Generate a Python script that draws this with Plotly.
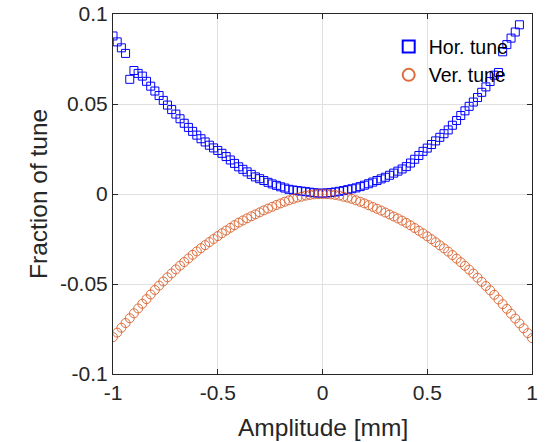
import plotly.graph_objects as go

# Horizontal tune: amplitude [mm] and fraction of tune
hor_x = [round(-1 + 0.02 * i, 2) for i in range(98)]
hor_y = [
    0.0878, 0.0845, 0.0812, 0.0781, 0.0637, 0.0686, 0.0670, 0.0655, 0.0626, 0.0599,
    0.0572, 0.0547, 0.0520, 0.0494, 0.0469, 0.0444, 0.0418, 0.0393, 0.0370, 0.0348,
    0.0327, 0.0307, 0.0289, 0.0271, 0.0256, 0.0242, 0.0226, 0.0208, 0.0189, 0.0170,
    0.0151, 0.0137, 0.0123, 0.0109, 0.0095, 0.0085, 0.0075, 0.0065, 0.0056, 0.0048,
    0.0040, 0.0033, 0.0026, 0.0022, 0.0019, 0.0016, 0.0013, 0.0010, 0.0007, 0.0005,
    0.0004,
    0.0006, 0.0008, 0.0011, 0.0015, 0.0019, 0.0024, 0.0029, 0.0034, 0.0041, 0.0049,
    0.0057, 0.0066, 0.0075, 0.0084, 0.0093, 0.0104, 0.0116, 0.0127, 0.0139, 0.0152,
    0.0172, 0.0193, 0.0214, 0.0237, 0.0255, 0.0275, 0.0295, 0.0315, 0.0335, 0.0356,
    0.0382, 0.0408, 0.0436, 0.0462, 0.0487, 0.0511, 0.0536, 0.0565, 0.0595, 0.0625,
    0.0660, 0.0675, 0.0790, 0.0830, 0.0866, 0.0900, 0.0940,
]

# Vertical tune
ver_x = [round(-1 + 0.02 * i, 2) for i in range(101)]
ver_y = [
    -0.0795, -0.0770, -0.0743, -0.0717, -0.0690, -0.0663, -0.0636, -0.0610, -0.0584, -0.0558,
    -0.0533, -0.0509, -0.0486, -0.0463, -0.0441, -0.0419, -0.0398, -0.0378, -0.0358, -0.0338,
    -0.0319, -0.0301, -0.0284, -0.0267, -0.0250, -0.0234, -0.0218, -0.0203, -0.0188, -0.0173,
    -0.0159, -0.0147, -0.0135, -0.0124, -0.0113, -0.0102, -0.0091, -0.0081, -0.0071, -0.0061,
    -0.0052, -0.0043, -0.0035, -0.0027, -0.0020, -0.0015, -0.0009, -0.0005, -0.0002, -0.0001,
    0.0000,
    -0.0001, -0.0002, -0.0005, -0.0009, -0.0015, -0.0020, -0.0027, -0.0035, -0.0043, -0.0052,
    -0.0062, -0.0072, -0.0082, -0.0092, -0.0103, -0.0114, -0.0125, -0.0136, -0.0148, -0.0160,
    -0.0174, -0.0189, -0.0204, -0.0219, -0.0235, -0.0251, -0.0268, -0.0285, -0.0302, -0.0320,
    -0.0339, -0.0359, -0.0379, -0.0399, -0.0420, -0.0442, -0.0465, -0.0488, -0.0511, -0.0535,
    -0.0560, -0.0586, -0.0612, -0.0638, -0.0665, -0.0692, -0.0719, -0.0746, -0.0773, -0.0800,
]

x_ticks = [-1, -0.5, 0, 0.5, 1]
x_tick_labels = ["-1", "-0.5", "0", "0.5", "1"]
y_ticks = [-0.1, -0.05, 0, 0.05, 0.1]
y_tick_labels = ["-0.1", "-0.05", "0", "0.05", "0.1"]
x_title = "Amplitude [mm]"
y_title = "Fraction of tune"

FONT = "Liberation Sans, Arial, sans-serif"
AXIS_COLOR = "#262626"

fig = go.Figure()
fig.add_trace(go.Scatter(
    x=hor_x, y=hor_y, mode="markers", name="Hor. tune",
    marker=dict(symbol="square-open", size=8, color="#0000FF", line=dict(width=1)),
))
fig.add_trace(go.Scatter(
    x=ver_x, y=ver_y, mode="markers", name="Ver. tune",
    marker=dict(symbol="circle-open", size=9, color="#D95319", line=dict(width=1)),
    opacity=0.85,
))

axis_common = dict(
    showgrid=True, gridcolor="#E0E0E0", gridwidth=1,
    showline=True, linecolor=AXIS_COLOR, linewidth=1, mirror="ticks",
    ticks="inside", ticklen=5, tickcolor=AXIS_COLOR,
    zeroline=False, automargin=False,
    tickfont=dict(family=FONT, size=21, color=AXIS_COLOR),
)

fig.update_layout(
    width=545, height=442,
    margin=dict(l=113, r=13, t=14, b=68),
    paper_bgcolor="white", plot_bgcolor="white",
    font=dict(family=FONT, color=AXIS_COLOR),
    showlegend=True,
    legend=dict(
        x=0.658, y=0.963, xanchor="left", yanchor="top",
        bgcolor="rgba(0,0,0,0)", borderwidth=0,
        font=dict(family=FONT, size=19.5, color="#000000"),
        itemsizing="constant", tracegroupgap=0,
    ),
    xaxis=dict(range=[-1, 1], tickvals=x_ticks, ticktext=x_tick_labels, **axis_common),
    yaxis=dict(range=[-0.1, 0.1], tickvals=y_ticks, ticktext=y_tick_labels, **axis_common),
    annotations=[
        dict(text=x_title, xref="paper", yref="paper", x=0.5, y=-0.15,
             xanchor="center", yanchor="middle", showarrow=False,
             font=dict(family=FONT, size=24.5, color=AXIS_COLOR)),
        dict(text=y_title, xref="paper", yref="paper", x=-0.179, y=0.5,
             xanchor="center", yanchor="middle", showarrow=False, textangle=-90,
             font=dict(family=FONT, size=24.5, color=AXIS_COLOR)),
    ],
)

fig.write_html(
    "out.html",
    config={"displayModeBar": False},
    post_script="document.body.style.margin='0';",
)
